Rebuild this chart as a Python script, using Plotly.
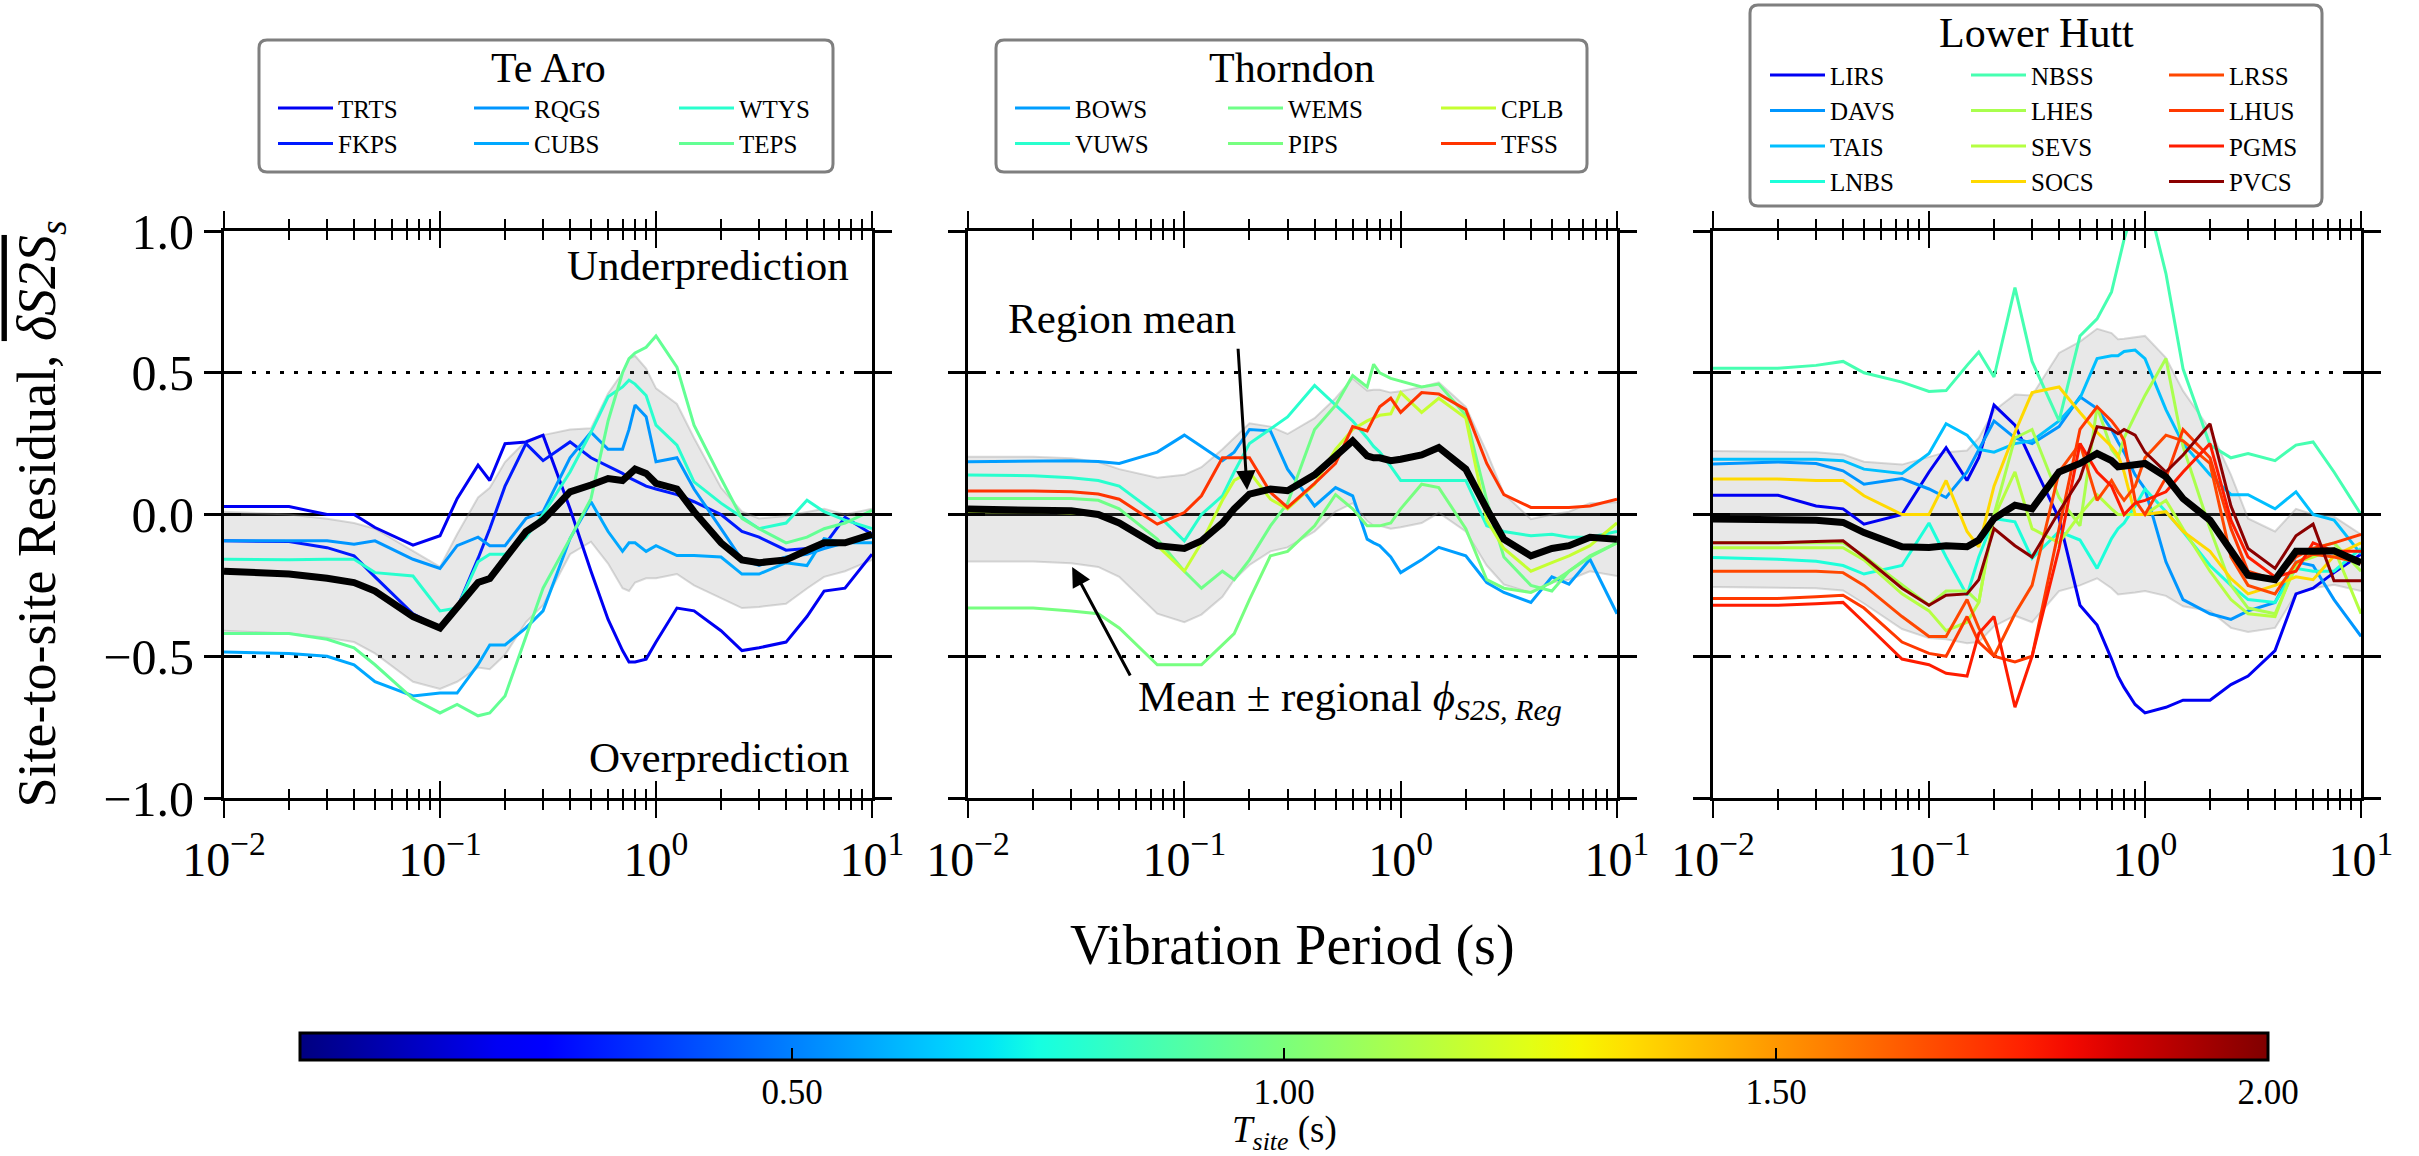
import numpy as np
import plotly.graph_objects as go

W, H = 2419, 1156
FONT = "Liberation Serif, Times New Roman, serif"

# ---------------- data ----------------
periods = [0.01, 0.02, 0.03, 0.04, 0.05, 0.075, 0.1, 0.12, 0.15, 0.17, 0.2, 0.25, 0.3, 0.4, 0.5,
           0.6, 0.7, 0.75, 0.8, 0.9, 1.0, 1.25, 1.5, 2.0, 2.5, 3.0, 4.0, 5.0, 6.0, 7.5, 10.0]

region_names = ["Te Aro", "Thorndon", "Lower Hutt"]

# --- Te Aro ---
te_aro_mean = [-0.20, -0.21, -0.225, -0.24, -0.27, -0.36, -0.40, -0.33, -0.24, -0.226, -0.155, -0.06, -0.02, 0.08, 0.104,
               0.127, 0.12, 0.14, 0.16, 0.145, 0.11, 0.09, 0.01, -0.10, -0.16, -0.17, -0.16, -0.126, -0.10, -0.10, -0.07]
te_aro_phi = [0.21, 0.21, 0.21, 0.21, 0.22, 0.23, 0.215, 0.26, 0.30, 0.32, 0.34, 0.32, 0.30, 0.22, 0.20,
              0.30, 0.38, 0.41, 0.40, 0.37, 0.335, 0.30, 0.26, 0.195, 0.17, 0.156, 0.155, 0.135, 0.12, 0.10, 0.09]
te_aro_sites = ["TRTS", "FKPS", "RQGS", "CUBS", "WTYS", "TEPS"]
te_aro_tsite = [0.20, 0.30, 0.545, 0.58, 0.80, 0.94]
TRTS = [0.028, 0.028, 0.0, 0.0, -0.046, -0.108, -0.075, 0.056, 0.174, 0.12, 0.25, 0.256, 0.28, 0.02, -0.2,
        -0.37, -0.48, -0.52, -0.52, -0.51, -0.45, -0.33, -0.34, -0.41, -0.48, -0.47, -0.45, -0.36, -0.27, -0.26, -0.14]
FKPS = [-0.093, -0.095, -0.117, -0.146, -0.22, -0.35, -0.40, -0.33, -0.155, -0.05, 0.10, 0.25, 0.19, 0.256, 0.20,
        0.17, 0.145, 0.13, 0.12, 0.10, 0.09, 0.07, 0.045, 0.0, -0.06, -0.08, -0.126, -0.12, -0.11, -0.01, -0.07]
RQGS = [-0.093, -0.093, -0.093, -0.105, -0.093, -0.158, -0.19, -0.11, -0.08, -0.11, -0.11, -0.014, 0.01, 0.2, 0.29,
        0.23, 0.23, 0.30, 0.386, 0.345, 0.186, 0.2, 0.09, -0.05, -0.16, -0.18, -0.15, -0.14, -0.12, -0.10, -0.08]
CUBS = [-0.485, -0.49, -0.50, -0.53, -0.59, -0.64, -0.63, -0.63, -0.53, -0.46, -0.46, -0.40, -0.34, -0.085, 0.045,
        -0.06, -0.13, -0.10, -0.10, -0.13, -0.11, -0.145, -0.145, -0.15, -0.21, -0.21, -0.17, -0.18, -0.085, -0.10, -0.10]
WTYS = [-0.158, -0.16, -0.158, -0.158, -0.205, -0.217, -0.34, -0.33, -0.167, -0.14, -0.14, -0.08, 0.0, 0.15, 0.29,
        0.415, 0.45, 0.474, 0.46, 0.42, 0.315, 0.245, 0.115, 0.04, -0.01, -0.05, -0.03, 0.05, 0.01, -0.02, -0.05]
TEPS = [-0.42, -0.42, -0.44, -0.47, -0.53, -0.65, -0.70, -0.67, -0.71, -0.70, -0.64, -0.43, -0.26, -0.085, 0.056,
        0.33, 0.50, 0.55, 0.57, 0.59, 0.63, 0.52, 0.315, 0.127, -0.014, -0.05, -0.10, -0.08, -0.05, -0.03, 0.015]
te_aro_values = [TRTS, FKPS, RQGS, CUBS, WTYS, TEPS]

# --- Thorndon ---
thorndon_mean = [0.019, 0.019, 0.013, 0.0, -0.03, -0.11, -0.12, -0.093, -0.03, 0.02, 0.072, 0.09, 0.084, 0.14, 0.21,
                 0.26, 0.207, 0.20, 0.20, 0.19, 0.195, 0.21, 0.236, 0.16, 0.02, -0.087, -0.146, -0.12, -0.11, -0.08, -0.087]
thorndon_phi = [0.185, 0.185, 0.185, 0.185, 0.19, 0.24, 0.26, 0.26, 0.26, 0.25, 0.25, 0.22, 0.20, 0.20, 0.20,
                0.22, 0.23, 0.24, 0.24, 0.24, 0.24, 0.24, 0.23, 0.22, 0.20, 0.16, 0.13, 0.12, 0.12, 0.12, 0.13]
thorndon_sites = ["BOWS", "VUWS", "WEMS", "PIPS", "CPLB", "TFSS"]
thorndon_tsite = [0.56, 0.80, 0.97, 0.99, 1.18, 1.71]
BOWS = [0.186, 0.19, 0.19, 0.187, 0.18, 0.22, 0.28, 0.24, 0.19, 0.22, 0.30, 0.295, 0.16, 0.03, 0.095,
        0.066, -0.087, -0.10, -0.11, -0.15, -0.205, -0.16, -0.116, -0.146, -0.24, -0.275, -0.31, -0.22, -0.246, -0.158, -0.35]
VUWS = [0.139, 0.137, 0.13, 0.12, 0.10, 0.0, -0.093, 0.0, 0.066, 0.15, 0.25, 0.30, 0.344, 0.455, 0.385,
        0.33, 0.27, 0.24, 0.22, 0.17, 0.12, 0.12, 0.12, 0.12, -0.04, -0.06, -0.075, -0.07, -0.08, -0.08, -0.06]
WEMS = [0.056, 0.056, 0.056, 0.05, 0.02, -0.087, -0.20, -0.26, -0.20, -0.23, -0.16, -0.04, 0.04, 0.30, 0.385,
        0.49, 0.45, 0.53, 0.50, 0.48, 0.47, 0.45, 0.46, 0.35, 0.05, -0.15, -0.25, -0.27, -0.20, -0.15, -0.10]
PIPS = [-0.33, -0.33, -0.34, -0.35, -0.40, -0.53, -0.53, -0.53, -0.46, -0.42, -0.30, -0.146, -0.13, -0.04, 0.07,
        0.02, -0.04, -0.04, -0.04, -0.03, 0.02, 0.107, 0.095, -0.05, -0.23, -0.26, -0.275, -0.24, -0.20, -0.146, -0.10]
CPLB = [0.01, 0.01, 0.005, 0.0, -0.03, -0.11, -0.20, -0.10, 0.05, 0.12, 0.15, 0.054, 0.02, 0.107, 0.23,
        0.30, 0.33, 0.34, 0.35, 0.355, 0.43, 0.36, 0.41, 0.34, -0.02, -0.12, -0.20, -0.17, -0.146, -0.11, -0.03]
TFSS = [0.083, 0.083, 0.08, 0.072, 0.054, -0.034, 0.007, 0.066, 0.20, 0.20, 0.20, 0.078, 0.025, 0.11, 0.18,
        0.31, 0.295, 0.34, 0.38, 0.41, 0.36, 0.43, 0.425, 0.37, 0.18, 0.07, 0.025, 0.025, 0.025, 0.03, 0.054]
thorndon_values = [BOWS, VUWS, WEMS, PIPS, CPLB, TFSS]

# --- Lower Hutt ---
lower_hutt_mean = [-0.016, -0.018, -0.02, -0.028, -0.064, -0.114, -0.116, -0.11, -0.114, -0.09, -0.014, 0.033, 0.02, 0.15, 0.18,
                   0.215, 0.19, 0.168, 0.17, 0.175, 0.18, 0.133, 0.056, -0.02, -0.13, -0.214, -0.23, -0.13, -0.13, -0.128, -0.17]
lower_hutt_phi = [0.24, 0.24, 0.24, 0.24, 0.25, 0.29, 0.32, 0.33, 0.34, 0.36, 0.38, 0.39, 0.40, 0.42, 0.43,
                  0.44, 0.45, 0.45, 0.45, 0.45, 0.45, 0.42, 0.38, 0.32, 0.27, 0.20, 0.17, 0.15, 0.13, 0.12, 0.10]
lower_hutt_sites = ["LIRS", "DAVS", "TAIS", "LNBS", "NBSS", "LHES", "SEVS", "SOCS", "LRSS", "LHUS", "PGMS", "PVCS"]
lower_hutt_tsite = [0.20, 0.545, 0.625, 0.77, 0.87, 1.11, 1.14, 1.36, 1.67, 1.70, 1.76, 1.98]
LIRS = [0.068, 0.068, 0.03, 0.02, -0.034, 0.0, 0.15, 0.236, 0.12, 0.20, 0.386, 0.315, 0.186, -0.014, -0.32,
        -0.39, -0.51, -0.57, -0.61, -0.67, -0.70, -0.68, -0.655, -0.655, -0.60, -0.57, -0.48, -0.28, -0.26, -0.205, -0.14]
DAVS = [0.178, 0.185, 0.18, 0.154, 0.107, 0.127, 0.09, 0.06, 0.15, 0.227, 0.33, 0.27, 0.25, 0.31, 0.415,
        0.374, 0.30, 0.256, 0.22, 0.14, 0.09, -0.167, -0.30, -0.35, -0.37, -0.34, -0.31, -0.167, -0.18, -0.30, -0.43]
TAIS = [0.195, 0.195, 0.195, 0.19, 0.16, 0.145, 0.215, 0.32, 0.28, 0.23, 0.22, 0.25, 0.26, 0.33, 0.41,
        0.55, 0.56, 0.56, 0.575, 0.58, 0.55, 0.37, 0.25, 0.14, 0.07, 0.07, 0.02, 0.08, 0.0, -0.02, -0.14]
LNBS = [-0.152, -0.158, -0.165, -0.18, -0.21, -0.18, -0.03, -0.15, -0.285, -0.15, -0.014, -0.026, -0.155, -0.06, -0.09,
        -0.19, -0.085, -0.05, -0.03, 0.03, 0.09, 0.01, -0.06, -0.18, -0.25, -0.30, -0.31, -0.19, -0.20, -0.20, -0.12]
NBSS = [0.516, 0.516, 0.526, 0.54, 0.50, 0.467, 0.434, 0.437, 0.526, 0.573, 0.485, 0.80, 0.54, 0.33, 0.63,
        0.69, 0.785, 0.88, 0.97, 1.10, 1.15, 0.85, 0.514, 0.245, 0.20, 0.215, 0.19, 0.245, 0.256, 0.15, 0.0]
LHES = [-0.10, -0.10, -0.10, -0.10, -0.146, -0.246, -0.32, -0.27, -0.27, -0.31, 0.0, 0.27, 0.30, 0.06, -0.04,
        0.38, 0.23, 0.20, 0.27, 0.35, 0.42, 0.55, 0.24, -0.05, -0.25, -0.33, -0.35, -0.18, -0.12, -0.10, -0.20]
SEVS = [-0.117, -0.117, -0.117, -0.117, -0.16, -0.28, -0.34, -0.41, -0.38, -0.31, -0.01, 0.15, -0.05, -0.10, 0.0,
        0.07, 0.02, 0.0, 0.0, 0.0, 0.0, 0.05, -0.05, -0.20, -0.30, -0.35, -0.36, -0.17, -0.15, -0.12, -0.35]
SOCS = [0.125, 0.125, 0.12, 0.12, 0.066, 0.0, 0.0, 0.12, -0.06, -0.114, 0.10, 0.29, 0.43, 0.45, 0.36,
        0.29, 0.24, 0.21, 0.15, 0.0, 0.0, 0.01, -0.06, -0.13, -0.226, -0.28, -0.25, -0.22, -0.23, -0.146, -0.10]
LRSS = [-0.20, -0.20, -0.20, -0.205, -0.25, -0.36, -0.43, -0.43, -0.30, -0.40, -0.50, -0.35, -0.25, 0.15, 0.25,
        0.05, 0.12, 0.08, 0.05, 0.10, 0.20, 0.28, 0.26, 0.18, -0.15, -0.25, -0.28, -0.17, -0.14, -0.15, -0.17]
LHUS = [-0.296, -0.296, -0.29, -0.285, -0.33, -0.45, -0.49, -0.50, -0.36, -0.45, -0.50, -0.52, -0.50, -0.05, 0.30,
        0.38, 0.33, 0.30, 0.26, 0.05, 0.0, 0.13, 0.30, 0.20, -0.05, -0.20, -0.23, -0.15, -0.12, -0.10, -0.07]
PGMS = [-0.32, -0.32, -0.315, -0.31, -0.38, -0.51, -0.53, -0.56, -0.57, -0.42, -0.36, -0.68, -0.50, -0.12, 0.25,
        0.15, 0.10, 0.05, 0.0, 0.04, 0.05, 0.08, 0.15, 0.25, -0.02, -0.15, -0.22, -0.20, -0.10, -0.13, -0.13]
PVCS = [-0.10, -0.10, -0.095, -0.093, -0.15, -0.26, -0.32, -0.285, -0.28, -0.23, -0.05, -0.11, -0.15, 0.01, 0.127,
        0.31, 0.30, 0.285, 0.30, 0.28, 0.22, 0.15, 0.21, 0.32, 0.03, -0.12, -0.19, -0.075, -0.034, -0.234, -0.234]
lower_hutt_values = [LIRS, DAVS, TAIS, LNBS, NBSS, LHES, SEVS, SOCS, LRSS, LHUS, PGMS, PVCS]

x_ticks = [0.01, 0.1, 1, 10]
x_ticktext = ["10<sup>\u22122</sup>", "10<sup>\u22121</sup>", "10<sup>0</sup>", "10<sup>1</sup>"]
y_ticks = [-1.0, -0.5, 0.0, 0.5, 1.0]
cbar_ticks = [0.5, 1.0, 1.5, 2.0]
tsite_max = 2.0

regions = [
    (te_aro_mean, te_aro_phi, te_aro_sites, te_aro_tsite, te_aro_values),
    (thorndon_mean, thorndon_phi, thorndon_sites, thorndon_tsite, thorndon_values),
    (lower_hutt_mean, lower_hutt_phi, lower_hutt_sites, lower_hutt_tsite, lower_hutt_values),
]


# ---------------- helpers ----------------
def jet(v):
    v = min(max(float(v), 0.0), 1.0)
    r = np.interp(v, [0, 0.35, 0.66, 0.89, 1], [0, 0, 1, 1, 0.5])
    g = np.interp(v, [0, 0.125, 0.375, 0.64, 0.91, 1], [0, 0, 1, 1, 0, 0])
    b = np.interp(v, [0, 0.11, 0.34, 0.65, 1], [0.5, 1, 1, 0, 0])
    return f"rgb({round(r*255)},{round(g*255)},{round(b*255)})"


JET = [[float(s), jet(s)] for s in np.linspace(0, 1, 41)]


def px(xp):
    return xp / W


def py(yp):
    return 1 - yp / H


def rounded_box(x0, y0, x1, y1, r=8):
    X0, X1 = px(x0), px(x1)
    Y0, Y1 = py(y0), py(y1)  # Y0 top, Y1 bottom
    rx, ry = r / W, r / H
    return (f"M{X0+rx},{Y0} L{X1-rx},{Y0} Q{X1},{Y0} {X1},{Y0-ry} "
            f"L{X1},{Y1+ry} Q{X1},{Y1} {X1-rx},{Y1} L{X0+rx},{Y1} "
            f"Q{X0},{Y1} {X0},{Y1+ry} L{X0},{Y0-ry} Q{X0},{Y0} {X0+rx},{Y0} Z")


# ---------------- layout geometry ----------------
x_dom_px = [(224, 872), (968, 1617), (1713, 2361)]
y_dom = [py(798), py(231)]

legend_boxes = [(259, 40, 833, 172), (996, 40, 1587, 172), (1750, 5, 2322, 206)]
legend_title_pos = [(548, 68), (1292, 68), (2036, 33)]
legend_cols = [[278, 474, 679], [1015, 1228, 1441], [1770, 1971, 2169]]
legend_row1 = [108, 108, 75]
LEG_FS = 25

fig = go.Figure()
layout = {}

for i, (mean, phi, sites, tsite, values) in enumerate(regions):
    xa = "x" if i == 0 else f"x{i+1}"
    ya = "y" if i == 0 else f"y{i+1}"
    mean_a = np.array(mean)
    phi_a = np.array(phi)
    # band
    fig.add_trace(go.Scatter(x=periods, y=mean_a + phi_a, xaxis=xa, yaxis=ya, mode="lines",
                             line=dict(color="rgba(150,150,150,0.35)", width=2),
                             showlegend=False, hoverinfo="skip"))
    fig.add_trace(go.Scatter(x=periods, y=mean_a - phi_a, xaxis=xa, yaxis=ya, mode="lines",
                             line=dict(color="rgba(150,150,150,0.35)", width=2),
                             fill="tonexty", fillcolor="rgba(128,128,128,0.18)",
                             showlegend=False, hoverinfo="skip"))
    # stations
    n = len(sites)
    nrows = n // 3
    for k, (s, t, v) in enumerate(zip(sites, tsite, values)):
        col = k // nrows
        leg = "legend" if (3 * i + col) == 0 else f"legend{3*i+col+1}"
        fig.add_trace(go.Scatter(x=periods, y=v, xaxis=xa, yaxis=ya, mode="lines", name=s,
                                 line=dict(color=jet(t / tsite_max), width=3),
                                 legend=leg, showlegend=True))
    # mean
    fig.add_trace(go.Scatter(x=periods, y=mean, xaxis=xa, yaxis=ya, mode="lines",
                             line=dict(color="black", width=7), showlegend=False))

    # legends (one per column)
    for col in range(3):
        idx = 3 * i + col
        key = "legend" if idx == 0 else f"legend{idx+1}"
        layout[key] = dict(
            x=px(legend_cols[i][col] - 5), y=py(legend_row1[i] - (LEG_FS * 1.3 + 3) / 2 - 5),
            xanchor="left", yanchor="top", bgcolor="rgba(0,0,0,0)", borderwidth=0,
            font=dict(family=FONT, size=LEG_FS, color="black"), itemwidth=55,
            tracegroupgap=0, traceorder="normal",
        )

    # axes
    dom = [px(x_dom_px[i][0]), px(x_dom_px[i][1])]
    xkey = "xaxis" if i == 0 else f"xaxis{i+1}"
    ykey = "yaxis" if i == 0 else f"yaxis{i+1}"
    oxkey, oykey = f"xaxis{i+4}", f"yaxis{i+4}"
    common_x = dict(type="log", range=[-2, 1], domain=dom, showgrid=False, zeroline=False,
                    showline=True, linecolor="black", linewidth=3,
                    tickmode="array", tickvals=x_ticks, ticklen=17, tickwidth=2, tickcolor="black")
    common_y = dict(range=[-1, 1], domain=y_dom, tickmode="array", tickvals=y_ticks,
                    showline=True, linecolor="black", linewidth=3,
                    ticklen=17, tickwidth=2.5, tickcolor="black")
    layout[xkey] = dict(common_x, anchor=ya, ticks="outside", mirror="ticks",
                        ticktext=x_ticktext, showticklabels=True,
                        tickfont=dict(family=FONT, size=48, color="black"),
                        minor=dict(dtick="D1", ticks="outside", ticklen=9, tickwidth=2,
                                   tickcolor="black", showgrid=False))
    layout[oxkey] = dict(common_x, anchor=ya, overlaying=xa, ticks="inside", mirror="ticks",
                         showticklabels=False,
                         minor=dict(dtick="D1", ticks="inside", ticklen=9, tickwidth=2,
                                    tickcolor="black", showgrid=False))
    layout[ykey] = dict(common_y, anchor=xa, ticks="outside", mirror="ticks",
                        showgrid=True, gridcolor="black", gridwidth=2.5, griddash="4px,10px",
                        zeroline=True, zerolinecolor="black", zerolinewidth=3,
                        tickformat=".1f", showticklabels=(i == 0),
                        tickfont=dict(family=FONT, size=50, color="black"))
    layout[oykey] = dict(common_y, anchor=xa, overlaying=ya, ticks="inside", mirror="ticks",
                         showgrid=False, zeroline=False, showticklabels=False)
    # invisible trace on overlay axes
    fig.add_trace(go.Scatter(x=[None], y=[None], xaxis=f"x{i+4}", yaxis=f"y{i+4}",
                             showlegend=False, hoverinfo="skip"))

# colourbar carrier
fig.add_trace(go.Scatter(
    x=[None], y=[None], xaxis="x", yaxis="y", mode="markers", showlegend=False, hoverinfo="skip",
    marker=dict(color=[0], colorscale=JET, cmin=0, cmax=tsite_max, showscale=True,
                colorbar=dict(orientation="h", x=px((300 + 2268) / 2), xanchor="center",
                              y=py(1033), yanchor="top", len=(2268 - 300) / W, lenmode="fraction",
                              thickness=27, thicknessmode="pixels", xpad=0, ypad=0,
                              outlinewidth=3, outlinecolor="black",
                              tickmode="array", tickvals=cbar_ticks,
                              ticktext=[f"{t:.2f}" for t in cbar_ticks],
                              ticks="inside", ticklen=13, tickwidth=1.5, tickcolor="black",
                              tickfont=dict(family=FONT, size=35, color="black")))))

# ---------------- annotations / shapes ----------------
annotations = []
shapes = []
for i in range(3):
    x0, y0, x1, y1 = legend_boxes[i]
    shapes.append(dict(type="path", xref="paper", yref="paper", path=rounded_box(x0, y0, x1, y1),
                       line=dict(color="#7f7f7f", width=3), fillcolor="white", layer="below"))
    tx, ty = legend_title_pos[i]
    annotations.append(dict(xref="paper", yref="paper", x=px(tx), y=py(ty), text=region_names[i],
                            showarrow=False, xanchor="center", yanchor="middle",
                            font=dict(family=FONT, size=42, color="black")))

TXT = dict(family=FONT, size=43, color="black")
annotations += [
    dict(xref="x", yref="y", x=np.log10(8.0), y=0.88, text="Underprediction", showarrow=False,
         xanchor="right", yanchor="middle", font=TXT),
    dict(xref="x", yref="y", x=np.log10(8.0), y=-0.856, text="Overprediction", showarrow=False,
         xanchor="right", yanchor="middle", font=TXT),
    dict(xref="x2", yref="y2", x=np.log10(0.015), y=0.693, text="Region mean", showarrow=False,
         xanchor="left", yanchor="middle", font=TXT),
    dict(xref="x2", yref="y2", x=np.log10(0.195), y=0.086, ax=np.log10(0.177), ay=0.59,
         axref="x2", ayref="y2", text="", showarrow=True, arrowhead=2, arrowsize=1.3,
         arrowwidth=3, arrowcolor="black", standoff=0),
    dict(xref="x2", yref="y2", x=np.log10(0.0598), y=-0.654,
         text="Mean \u00b1 regional <i>\u03d5</i><sub><i>S2S, Reg</i></sub>", showarrow=False,
         xanchor="left", yanchor="middle", font=TXT),
    dict(xref="x2", yref="y2", x=np.log10(0.0303), y=-0.185, ax=np.log10(0.0567), ay=-0.573,
         axref="x2", ayref="y2", text="", showarrow=True, arrowhead=2, arrowsize=1.3,
         arrowwidth=3, arrowcolor="black", standoff=0),
    # axis titles
    dict(xref="paper", yref="paper", x=px(1292), y=py(945), text="Vibration Period (s)",
         showarrow=False, xanchor="center", yanchor="middle",
         font=dict(family=FONT, size=56, color="black")),
    dict(xref="paper", yref="paper", x=px(40), y=(y_dom[0] + y_dom[1]) / 2,
         text='Site-to-site Residual, <span style="text-decoration:overline"><i>\u03b4S2S</i></span><sub><i>s</i></sub>',
         textangle=-90, showarrow=False, xanchor="center", yanchor="middle",
         font=dict(family=FONT, size=54, color="black")),
    # colourbar title
    dict(xref="paper", yref="paper", x=px(1284), y=py(1132),
         text="<i>T</i><sub><i>site</i></sub> (s)", showarrow=False,
         xanchor="center", yanchor="middle", font=dict(family=FONT, size=37, color="black")),
]

fig.update_layout(**layout)
fig.update_layout(
    width=W, height=H, margin=dict(l=0, r=0, t=0, b=0, pad=0, autoexpand=False),
    paper_bgcolor="white", plot_bgcolor="white", showlegend=True,
    font=dict(family=FONT, color="black"),
    annotations=annotations, shapes=shapes,
)

fig.write_html("out.html", config={"displayModeBar": False},
               post_script="document.body.style.margin='0';document.body.style.overflow='hidden';")
